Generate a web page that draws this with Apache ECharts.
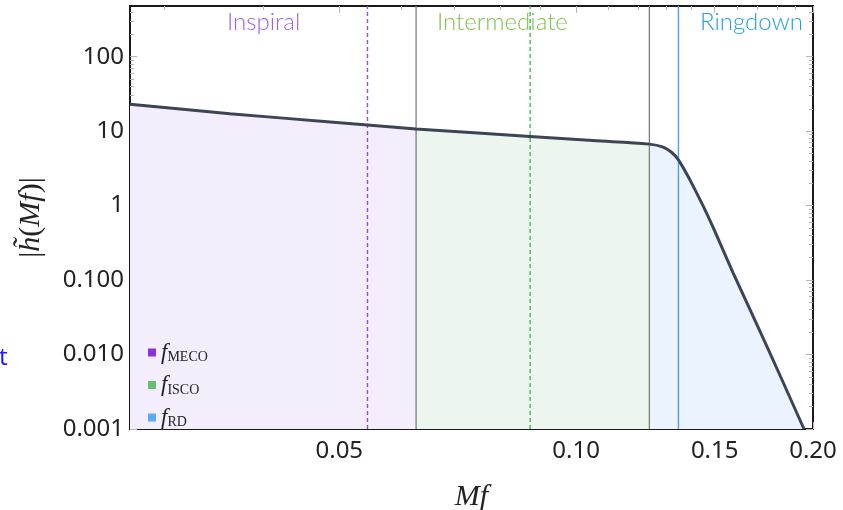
<!DOCTYPE html>
<html>
<head>
<meta charset="utf-8">
<style>
  html, body { margin: 0; padding: 0; background: #fff; }
  #main { width: 843px; height: 510px; }
</style>
</head>
<body>
<div id="main"></div>
<script src="https://cdn.jsdelivr.net/npm/echarts@6/dist/echarts.min.js"></script>
<script type="text/javascript">
    // amplitude curve (Mf, |h(Mf)|)
    var freq = [0.0271, 0.0363, 0.0487, 0.0543, 0.0626, 0.075, 0.0874, 0.105, 0.1239, 0.1290, 0.1323, 0.1349, 0.1395, 0.1451, 0.1494, 0.1583, 0.1747, 0.1948];
    var amp  = [23.0, 17.2, 13.3, 12.1, 10.7, 9.43, 8.47, 7.48, 6.70, 6.11, 5.17, 4.12, 2.22, 0.975, 0.501, 0.125, 0.013, 0.001];

    // region boundaries (grey lines) and marked frequencies
    var boundaries = [0.0626, 0.1239];
    var markNames = ['MECO', 'ISCO', 'RD'];
    var markFreqs = [0.0543, 0.0874, 0.1349];

    var regionNames = ['Inspiral', 'Intermediate', 'Ringdown'];

    var xTicks = [0.05, 0.10, 0.15, 0.20];
    var xTickLabels = ['0.05', '0.10', '0.15', '0.20'];
    var xMinorTicks = [0.03, 0.04, 0.06, 0.07, 0.08, 0.09, 0.11, 0.12, 0.13, 0.14, 0.16, 0.17, 0.18, 0.19];
    var yTicks = [0.001, 0.01, 0.1, 1, 10, 100];
    var yTickLabels = ['0.001', '0.010', '0.100', '1', '10', '100'];

    var xMin = 0.0271, xMax = 0.2, yMin = 0.001, yMax = 480;

    var yMinorTicks = [];
    [0.001, 0.01, 0.1, 1, 10, 100].forEach(function (d) {
        for (var k = 2; k <= 9; k++) {
            var v = +(d * k).toPrecision(3);
            if (v < yMax) yMinorTicks.push(v);
        }
    });

    function pairs(lo, hi) {
        var out = [];
        for (var i = 0; i < freq.length; i++) {
            if (freq[i] >= lo && freq[i] <= hi) out.push([freq[i], amp[i]]);
        }
        return out;
    }
    var curve = pairs(0, 1);
    var regionData = [
        pairs(0, boundaries[0]),
        pairs(boundaries[0], boundaries[1]),
        pairs(boundaries[1], 1)
    ];
    var fillColors = ['#f4eefc', '#edf6ee', '#ebf4fe'];
    var textColors = ['#9a62ee', '#85c152', '#26a0d8'];
    var markLineColors = ['#8c4fe0', '#3dbb50', '#4f9fe8'];
    var markLegendColors = ['#8a30dc', '#66c06c', '#5aaaf0'];
    var markDash = [[4, 3], [4, 3], null];

    var series = [];
    regionData.forEach(function (d, i) {
        series.push({
            name: regionNames[i],
            type: 'line',
            data: d,
            smooth: 0.35,
            symbol: 'none',
            lineStyle: {width: 0},
            areaStyle: {color: fillColors[i], opacity: 1, origin: 'start'},
            silent: true,
            z: 1
        });
    });
    boundaries.forEach(function (b) {
        series.push({
            type: 'line',
            data: [[b, yMin], [b, yMax]],
            symbol: 'none',
            lineStyle: {color: '#7d7d7d', width: 1.3},
            silent: true,
            z: 2
        });
    });
    markFreqs.forEach(function (f, i) {
        series.push({
            name: markNames[i],
            type: 'line',
            data: [[f, yMin], [f, yMax]],
            symbol: 'none',
            color: markLegendColors[i],
            lineStyle: {color: markLineColors[i], width: 1.4, type: markDash[i] || 'solid'},
            silent: true,
            z: 2
        });
    });
    series.push({
        type: 'line',
        data: curve,
        smooth: 0.35,
        symbol: 'none',
        lineStyle: {color: '#3d4455', width: 3},
        silent: true,
        z: 5
    });

    function tickAxisX(pos, values, len, labels) {
        return {
            type: 'log', position: pos, min: xMin, max: xMax,
            axisLine: {show: true, onZero: false, lineStyle: {color: '#1a1a1a', width: 2}},
            axisTick: {show: true, inside: true, length: len, customValues: values, lineStyle: {color: '#b5b5b5', width: 1}},
            axisLabel: labels ? {
                show: true, customValues: xTicks, margin: 10,
                fontFamily: 'Noto Sans', fontSize: 24, color: '#222',
                formatter: function (v) {
                    for (var i = 0; i < xTicks.length; i++) if (Math.abs(v - xTicks[i]) < 1e-6) return xTickLabels[i];
                    return '';
                }
            } : {show: false},
            splitLine: {show: false}
        };
    }
    function tickAxisY(pos, values, len, labels) {
        return {
            type: 'log', position: pos, min: yMin, max: yMax,
            axisLine: {show: true, onZero: false, lineStyle: {color: '#1a1a1a', width: 2}},
            axisTick: {show: true, inside: true, length: len, customValues: values, lineStyle: {color: '#b5b5b5', width: 1}},
            axisLabel: labels ? {
                show: true, customValues: yTicks, margin: 6,
                fontFamily: 'Noto Sans', fontSize: 24, color: '#222',
                formatter: function (v) {
                    for (var i = 0; i < yTicks.length; i++) if (Math.abs(Math.log10(v) - Math.log10(yTicks[i])) < 1e-6) return yTickLabels[i];
                    return '';
                }
            } : {show: false},
            splitLine: {show: false}
        };
    }

    var xMain = tickAxisX('bottom', xTicks, 7, true);
    xMain.name = 'Mf';
    xMain.nameLocation = 'middle';
    xMain.nameGap = 53;
    xMain.nameTextStyle = {fontFamily: 'Liberation Serif', fontStyle: 'italic', fontSize: 30, color: '#222'};
    var yMain = tickAxisY('left', yTicks, 7, true);
    yMain.name = '{u||}{i|h\u0303}{u|(}{i|Mf}{u|)|}';
    yMain.nameLocation = 'middle';
    yMain.nameRotate = 90;
    yMain.nameGap = 84;
    yMain.nameTextStyle = {
        color: '#222',
        rich: {
            u: {fontFamily: 'Liberation Serif', fontSize: 30, color: '#222'},
            i: {fontFamily: 'Liberation Serif', fontStyle: 'italic', fontSize: 30, color: '#222'}
        }
    };

    // 基于准备好的dom，初始化echarts实例
    var myChart = echarts.init(document.getElementById('main'));
    var option = {
        animation: false,
        backgroundColor: '#ffffff',
        grid: {left: 130, right: 30, top: 6, bottom: 81, containLabel: false, outerBoundsMode: 'none'},
        xAxis: [
            xMain,
            tickAxisX('bottom', xMinorTicks, 4, false),
            tickAxisX('top', xTicks, 7, false),
            tickAxisX('top', xMinorTicks, 4, false)
        ],
        yAxis: [
            yMain,
            tickAxisY('left', yMinorTicks, 4, false),
            tickAxisY('right', yTicks, 7, false),
            tickAxisY('right', yMinorTicks, 4, false)
        ],
        legend: {
            data: markNames,
            orient: 'vertical',
            left: 143,
            top: 336,
            icon: 'rect',
            itemWidth: 8,
            itemHeight: 8,
            itemGap: 9,
            selectedMode: false,
            formatter: function (name) { return '{f|f}{s|' + name + '}'; },
            textStyle: {
                color: '#222',
                rich: {
                    f: {fontFamily: 'Liberation Serif', fontStyle: 'italic', fontSize: 23, lineHeight: 24, color: '#222'},
                    s: {fontFamily: 'Liberation Serif', fontSize: 14, lineHeight: 24, verticalAlign: 'bottom', color: '#222'}
                }
            }
        },
        graphic: [
            {type: 'text', left: 227, top: 10, style: {text: regionNames[0], fill: textColors[0], font: '300 24px Lato'}},
            {type: 'text', left: 437, top: 10, style: {text: regionNames[1], fill: textColors[1], font: '300 24px Lato'}},
            {type: 'text', left: 700, top: 10, style: {text: regionNames[2], fill: textColors[2], font: '300 24px Lato'}},
            {type: 'text', left: -1, top: 346, style: {text: 't', fill: '#1f1fff', font: '24px "Noto Sans"'}}
        ],
        series: series
    };
    // 使用刚指定的配置项和数据显示图表。
    myChart.setOption(option);
</script>
</body>
</html>
